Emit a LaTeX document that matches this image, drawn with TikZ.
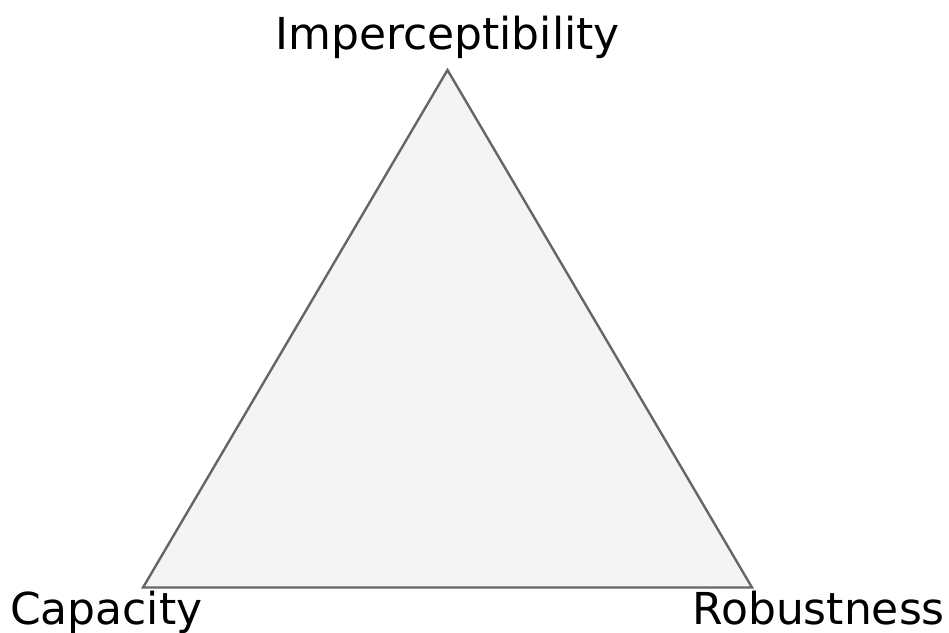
\documentclass[tikz,border=0pt]{standalone}
\usepackage{fontspec}
\setmainfont{DejaVu Sans}
\definecolor{edgegray}{HTML}{666666}
\definecolor{fillgray}{HTML}{F4F4F4}
\begin{document}
\begin{tikzpicture}[x=1pt,y=-1pt,
  lbl/.style={inner sep=0pt,font=\fontsize{44}{50}\selectfont,text=black},
  tri/.style={draw=edgegray,fill=fillgray,line width=2.4pt,line join=miter}]
\useasboundingbox (0,0) rectangle (949,632);
\coordinate (top) at (447.5,70);
\coordinate (bl) at (143,587.5);
\coordinate (br) at (752,587.5);
\draw[tri] (top) -- (br) -- (bl) -- cycle;
\node[lbl,anchor=base] (imp) at (447.5,49) {Imperceptibility};
\node[lbl,anchor=base west] (cap) at (10,624) {Capacity};
\node[lbl,anchor=base east] (rob) at (945,624) {Robustness};
\end{tikzpicture}
\end{document}
